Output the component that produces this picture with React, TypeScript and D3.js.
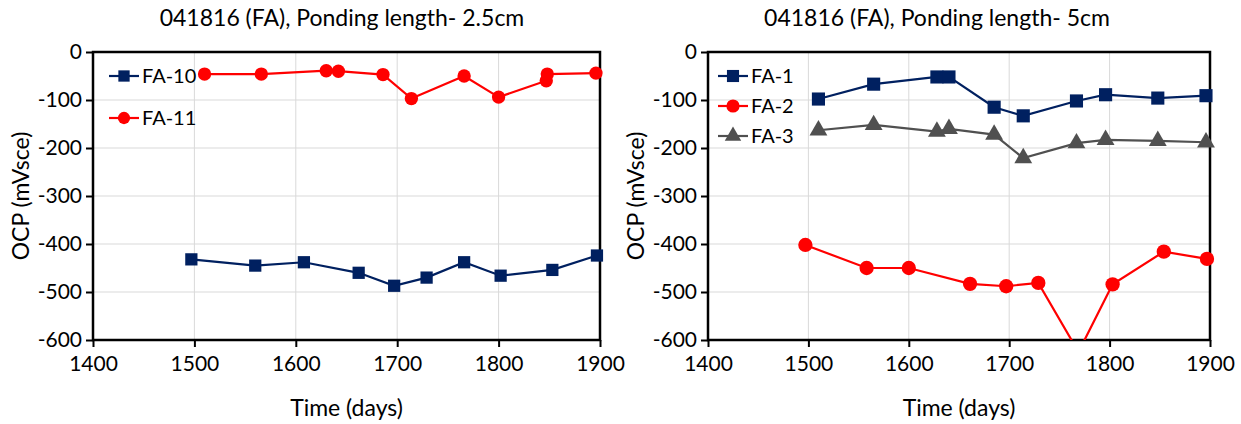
import { useEffect, useRef } from 'react';
import * as d3 from 'd3';

// days / OCP (mV vs SCE)
const fa10Days = [1497, 1560, 1608, 1662, 1697, 1729, 1766, 1802, 1853, 1897];
const fa10Ocp = [-432, -445, -438, -460, -487, -470, -438, -466, -454, -424];

const fa11Days = [1510, 1566, 1630, 1642, 1686, 1714, 1766, 1800, 1847, 1848, 1896];
const fa11Ocp = [-46, -46, -39, -40, -47, -97, -50, -94, -60, -46, -44];

const fa1Days = [1510, 1565, 1628, 1640, 1685, 1714, 1767, 1796, 1848, 1896];
const fa1Ocp = [-98, -67, -52, -52, -115, -133, -102, -89, -96, -91];

const fa2Days = [1497, 1558, 1600, 1661, 1697, 1729, 1769, 1803, 1854, 1897];
const fa2Ocp = [-402, -450, -450, -483, -488, -481, -625, -484, -416, -431];

const fa3Days = [1510, 1565, 1628, 1640, 1685, 1714, 1767, 1796, 1848, 1896];
const fa3Ocp = [-163, -152, -166, -160, -172, -221, -190, -183, -185, -188];

const xTicks = [1400, 1500, 1600, 1700, 1800, 1900];
const yTicks = [0, -100, -200, -300, -400, -500, -600];

type Marker = 'square' | 'circle' | 'triangle';
interface Series {
  name: string;
  days: number[];
  ocp: number[];
  color: string;
  marker: Marker;
}

const NAVY = '#002060';
const RED = '#ff0000';
const GREY = '#505050';

const leftSeries: Series[] = [
  { name: 'FA-10', days: fa10Days, ocp: fa10Ocp, color: NAVY, marker: 'square' },
  { name: 'FA-11', days: fa11Days, ocp: fa11Ocp, color: RED, marker: 'circle' },
];
const rightSeries: Series[] = [
  { name: 'FA-1', days: fa1Days, ocp: fa1Ocp, color: NAVY, marker: 'square' },
  { name: 'FA-2', days: fa2Days, ocp: fa2Ocp, color: RED, marker: 'circle' },
  { name: 'FA-3', days: fa3Days, ocp: fa3Ocp, color: GREY, marker: 'triangle' },
];

const FONT = 'Lato, "Open Sans", sans-serif';

const symbolFor = (m: Marker) =>
  m === 'square' ? d3.symbolSquare : m === 'circle' ? d3.symbolCircle : d3.symbolTriangle;
const sizeFor = (m: Marker) => (m === 'square' ? 150 : m === 'circle' ? 140 : 120);

interface PanelProps {
  id: string;
  title: string;
  titleX: number;
  series: Series[];
  x0: number;
  x1: number;
  legendGap: number;
  legendPad: number;
  markerScale: number;
}

function drawPanel(svgEl: SVGSVGElement, p: PanelProps) {
  const top = 52;
  const bottom = 340;
  const svg = d3.select(svgEl);
  const g = svg.append('g');

  const x = d3.scaleLinear().domain([1400, 1900]).range([p.x0, p.x1]);
  const y = d3.scaleLinear().domain([-600, 0]).range([bottom, top]);

  // grid
  g.selectAll('line.gx')
    .data(xTicks.slice(1, -1))
    .join('line')
    .attr('x1', (d) => x(d)).attr('x2', (d) => x(d))
    .attr('y1', top).attr('y2', bottom)
    .attr('stroke', '#d9d9d9').attr('stroke-width', 1);
  g.selectAll('line.gy')
    .data(yTicks.slice(1, -1))
    .join('line')
    .attr('x1', p.x0).attr('x2', p.x1)
    .attr('y1', (d) => y(d)).attr('y2', (d) => y(d))
    .attr('stroke', '#d9d9d9').attr('stroke-width', 1);

  // axes (plain hyphen minus, like the source)
  const fmt = (d: d3.NumberValue) => String(d);
  const xAxis = d3.axisBottom(x).tickValues(xTicks).tickSize(7).tickFormat(fmt);
  const yAxis = d3.axisLeft(y).tickValues(yTicks).tickSize(7).tickFormat(fmt);
  const gx = g.append('g').attr('transform', `translate(0,${bottom})`).call(xAxis);
  const gy = g.append('g').attr('transform', `translate(${p.x0},0)`).call(yAxis);
  [gx, gy].forEach((a) => {
    a.select('.domain').remove();
    a.selectAll('line').attr('stroke', '#000').attr('stroke-width', 2);
    a.selectAll('text')
      .attr('fill', '#000')
      .style('font-family', FONT)
      .style('font-size', '21px');
  });
  gx.selectAll('text').attr('dy', '1.0em');
  gy.selectAll('text').attr('x', -11);

  // frame
  g.append('rect')
    .attr('x', p.x0).attr('y', top)
    .attr('width', p.x1 - p.x0).attr('height', bottom - top)
    .attr('fill', 'none').attr('stroke', '#000').attr('stroke-width', 2.5);

  // clip
  const clipId = `clip-${p.id}`;
  svg.append('defs').append('clipPath').attr('id', clipId)
    .append('rect')
    .attr('x', p.x0).attr('y', top - 8)
    .attr('width', p.x1 - p.x0 + 8).attr('height', bottom - top + 8);

  const plot = g.append('g').attr('clip-path', `url(#${clipId})`);
  const line = d3.line<[number, number]>().x((d) => x(d[0])).y((d) => y(d[1]));

  p.series.forEach((s) => {
    const pts = s.days.map((d, i) => [d, s.ocp[i]] as [number, number]);
    plot.append('path')
      .attr('d', line(pts))
      .attr('fill', 'none')
      .attr('stroke', s.color)
      .attr('stroke-width', 2.2);
    plot.selectAll(null)
      .data(pts.filter((d) => d[1] >= -600))
      .join('path')
      .attr('transform', (d) => `translate(${x(d[0])},${y(d[1])})`)
      .attr('d', d3.symbol(symbolFor(s.marker), sizeFor(s.marker) * p.markerScale)())
      .attr('fill', s.color);
  });

  // legend
  const lg = g.append('g').attr('transform', `translate(${p.x0 + p.legendPad},76)`);
  p.series.forEach((s, i) => {
    const row = lg.append('g').attr('transform', `translate(0,${i * p.legendGap})`);
    row.append('line').attr('x1', 0).attr('x2', 30).attr('stroke', s.color).attr('stroke-width', 2.2);
    row.append('path')
      .attr('transform', 'translate(15,0)')
      .attr('d', d3.symbol(symbolFor(s.marker), sizeFor(s.marker) * 0.85 * p.markerScale)())
      .attr('fill', s.color);
    row.append('text')
      .attr('x', 33).attr('y', 0).attr('dy', '0.35em')
      .style('font-family', FONT).style('font-size', '20px')
      .attr('fill', '#000')
      .text(s.name);
  });

  // titles
  const cx = (p.x0 + p.x1) / 2;
  g.append('text')
    .attr('x', p.titleX).attr('y', 26)
    .attr('text-anchor', 'middle')
    .style('font-family', FONT).style('font-size', '23px')
    .attr('fill', '#000')
    .text(p.title);
  g.append('text')
    .attr('x', cx).attr('y', 416)
    .attr('text-anchor', 'middle')
    .style('font-family', FONT).style('font-size', '23px')
    .attr('fill', '#000')
    .text('Time (days)');
  g.append('text')
    .attr('transform', `translate(${p.x0 - 64},196) rotate(-90)`)
    .attr('text-anchor', 'middle')
    .style('font-family', FONT).style('font-size', '23px')
    .attr('fill', '#000')
    .text('OCP (mVsce)');
}

export default function App() {
  const svgRef = useRef<SVGSVGElement>(null);

  useEffect(() => {
    if (!svgRef.current) return;
    d3.select(svgRef.current).selectAll('*').remove();
    drawPanel(svgRef.current, {
      id: 'left', title: '041816 (FA), Ponding length- 2.5cm', titleX: 342,
      series: leftSeries, x0: 93, x1: 600, legendGap: 42, legendPad: 16, markerScale: 1,
    });
    drawPanel(svgRef.current, {
      id: 'right', title: '041816 (FA), Ponding length- 5cm', titleX: 937,
      series: rightSeries, x0: 708, x1: 1210, legendGap: 30, legendPad: 10, markerScale: 1.15,
    });
  }, []);

  return (
    <svg
      ref={svgRef}
      width={1241}
      height={424}
      style={{ position: 'absolute', left: 0, top: 0, background: '#fff' }}
    />
  );
}
